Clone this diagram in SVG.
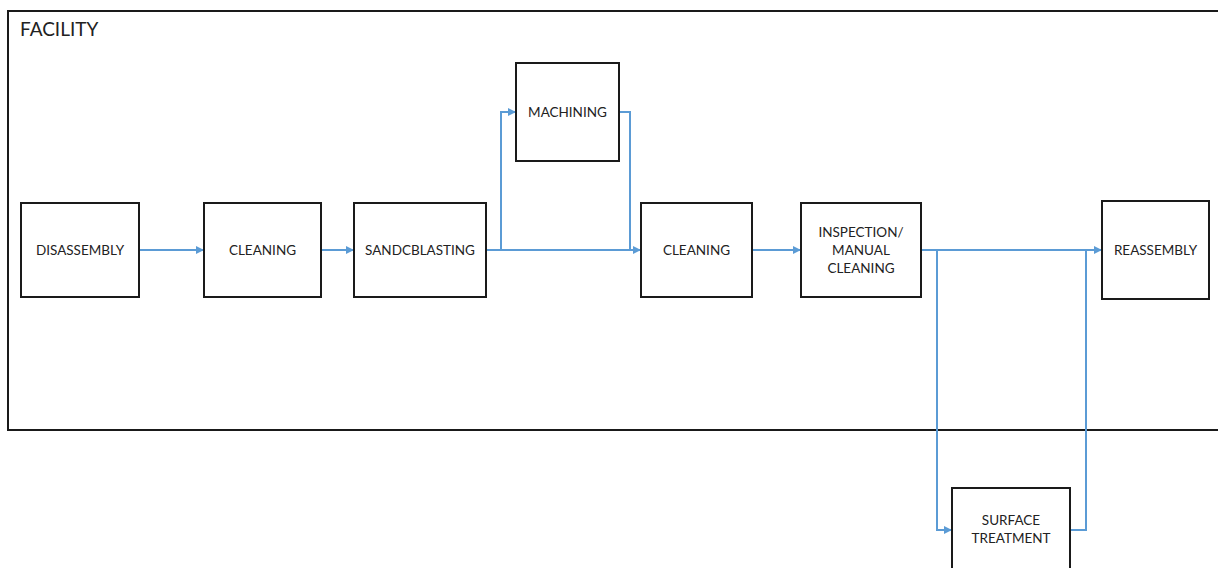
<svg xmlns="http://www.w3.org/2000/svg" width="1218" height="568" viewBox="0 0 1218 568">
  <defs>
    <marker id="arrow" viewBox="0 0 10 10" refX="10" refY="5" markerWidth="8" markerHeight="8" markerUnits="userSpaceOnUse" orient="auto">
      <path d="M0,0 L10,5 L0,10 z" fill="#5b9bd5"/>
    </marker>
    <style>
      .box { fill: #ffffff; stroke: #1a1a1a; stroke-width: 2; }
      .lbl { font-family: Lato, "Liberation Sans", sans-serif; font-size: 13.5px; fill: #222222; text-anchor: middle; dominant-baseline: central; }
      .title { font-family: Lato, "Liberation Sans", sans-serif; font-size: 19px; fill: #222222; }
      .flow { fill: none; stroke: #5b9bd5; stroke-width: 2; }
      .arr { marker-end: url(#arrow); }
    </style>
  </defs>

  <rect width="1218" height="568" fill="#ffffff"/>

  <!-- facility boundary -->
  <g id="facility">
    <path d="M1220,11 H8 V430 H1220" fill="none" stroke="#1a1a1a" stroke-width="2"/>
    <text class="title" x="20" y="36">FACILITY</text>
  </g>

  <!-- process flow -->
  <g id="connectors">
    <line class="flow arr" x1="139" y1="250" x2="204" y2="250"/>
    <line class="flow arr" x1="321" y1="250" x2="354" y2="250"/>
    <line class="flow arr" x1="486" y1="250" x2="641" y2="250"/>
    <polyline class="flow arr" points="501,250 501,112 516,112"/>
    <polyline class="flow" points="619,112 630,112 630,250"/>
    <line class="flow arr" x1="752" y1="250" x2="801" y2="250"/>
    <line class="flow arr" x1="921" y1="250" x2="1102" y2="250"/>
    <polyline class="flow arr" points="937,250 937,530 952,530"/>
    <polyline class="flow" points="1070,530 1086,530 1086,250"/>
  </g>

  <g id="disassembly">
    <rect class="box" x="21" y="203" width="118" height="94"/>
    <text class="lbl" x="80" y="250">DISASSEMBLY</text>
  </g>
  <g id="cleaning-1">
    <rect class="box" x="204" y="203" width="117" height="94"/>
    <text class="lbl" x="262.5" y="250">CLEANING</text>
  </g>
  <g id="sandblasting">
    <rect class="box" x="354" y="203" width="132" height="94"/>
    <text class="lbl" x="420" y="250">SANDCBLASTING</text>
  </g>
  <g id="machining">
    <rect class="box" x="516" y="63" width="103" height="98"/>
    <text class="lbl" x="567.5" y="112">MACHINING</text>
  </g>
  <g id="cleaning-2">
    <rect class="box" x="641" y="203" width="111" height="94"/>
    <text class="lbl" x="696.5" y="250">CLEANING</text>
  </g>
  <g id="inspection">
    <rect class="box" x="801" y="203" width="120" height="94"/>
    <text class="lbl" x="861" y="232">INSPECTION/</text>
    <text class="lbl" x="861" y="250">MANUAL</text>
    <text class="lbl" x="861" y="268">CLEANING</text>
  </g>
  <g id="reassembly">
    <rect class="box" x="1102" y="201" width="107" height="98"/>
    <text class="lbl" x="1155.5" y="250">REASSEMBLY</text>
  </g>
  <g id="surface-treatment">
    <rect class="box" x="952" y="488" width="118" height="100"/>
    <text class="lbl" x="1011" y="520">SURFACE</text>
    <text class="lbl" x="1011" y="538">TREATMENT</text>
  </g>
</svg>
